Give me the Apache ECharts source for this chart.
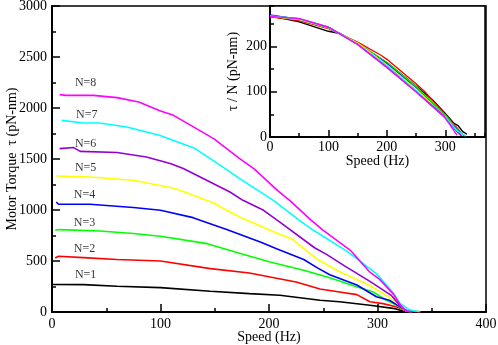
<!DOCTYPE html>
<html>
<head>
<meta charset="utf-8">
<script src="https://cdn.jsdelivr.net/npm/echarts@6/dist/echarts.min.js"></script>
<style>
  html, body { margin: 0; padding: 0; background: #fff; }
  #chart { width: 498px; height: 345px; }
</style>
</head>
<body>
<div id="chart"></div>
<script>
// main panel: [speed (Hz), torque (pN-nm)] for each number of motors
const torqueN1 = [[1,269],[29,268],[60,252],[100,239],[146,203],[182,180],[210,164],[247,115],[265,100],[293,66],[316,33],[321,17],[326,5],[332,1]];
const torqueN2 = [[3,529],[6,546],[29,533],[60,514],[100,500],[146,425],[182,382],[201,343],[225,294],[247,225],[265,196],[281,170],[293,100],[305,82],[318,49],[324,20],[332,6],[340,2]];
const torqueN3 = [[3,801],[7,808],[44,794],[75,769],[100,742],[143,670],[176,566],[201,490],[232,409],[256,335],[280,250],[296,196],[308,115],[318,66],[324,20],[330,4]];
const torqueN4 = [[4,1078],[6,1056],[35,1056],[75,1024],[100,997],[130,925],[161,808],[192,686],[207,621],[232,515],[245,430],[256,365],[281,265],[299,150],[311,115],[321,50],[327,10],[332,2]];
const torqueN5 = [[4,1333],[35,1324],[75,1291],[109,1220],[118,1193],[149,1069],[164,980],[173,931],[201,801],[222,710],[244,520],[265,395],[293,260],[311,145],[320,70],[326,12],[331,2]];
const torqueN6 = [[7,1602],[20,1612],[26,1575],[60,1563],[87,1520],[109,1455],[121,1406],[164,1176],[176,1095],[195,997],[210,882],[242,630],[253,565],[270,450],[293,300],[313,160],[320,70],[327,8],[332,1]];
const torqueN7 = [[9,1879],[29,1853],[44,1853],[69,1814],[99,1732],[132,1602],[161,1395],[173,1308],[204,1095],[228,899],[241,801],[272,595],[299,376],[315,180],[321,82],[330,18],[339,2]];
const torqueN8 = [[7,2131],[13,2124],[38,2124],[60,2102],[80,2059],[100,1971],[112,1928],[149,1700],[173,1504],[186,1406],[208,1190],[219,1095],[239,899],[250,801],[275,605],[293,390],[302,320],[315,170],[321,70],[326,10],[332,1]];

// inset: [speed (Hz), torque per motor (pN-nm)]
const ratioN1 = [[0,268],[50,255],[100,234],[120,229],[150,207],[200,165],[250,113],[280,80],[300,52],[315,30],[322,25],[330,12],[337,6]];
const ratioN2 = [[0,266],[50,258],[100,240],[150,210],[190,181],[200,172],[250,118],[265,100],[280,78],[300,50],[320,20],[330,5]];
const ratioN3 = [[0,268],[50,260],[100,241],[150,208],[200,165],[250,112],[300,48],[318,20],[330,4]];
const ratioN4 = [[0,270],[50,260],[100,243],[150,207],[200,162],[250,108],[300,45],[320,15],[332,3]];
const ratioN5 = [[0,268],[50,260],[100,242],[150,208],[200,160],[250,106],[300,45],[320,13],[330,3]];
const ratioN6 = [[0,268],[50,262],[100,243],[150,205],[200,154],[250,100],[300,42],[320,12],[328,2]];
const ratioN7 = [[0,268],[50,262],[100,243],[150,205],[200,158],[250,103],[300,44],[320,14],[335,2]];
const ratioN8 = [[0,267],[50,262],[100,243],[150,205],[200,155],[250,100],[297,48],[320,4]];

const seriesNames = ['N=1', 'N=2', 'N=3', 'N=4', 'N=5', 'N=6', 'N=7', 'N=8'];
// where the N=k tags sit, in data units of the main panel
const tagSpeed = [31, 30, 30, 30, 31, 31, 32, 31];
const tagTorque = [360, 621, 873, 1151, 1412, 1651, 1935, 2245];

const mainTicksX = [0, 100, 200, 300, 400];
const mainTicksY = [0, 500, 1000, 1500, 2000, 2500, 3000];

const torqueData = [torqueN1, torqueN2, torqueN3, torqueN4, torqueN5, torqueN6, torqueN7, torqueN8];
const ratioData = [ratioN1, ratioN2, ratioN3, ratioN4, ratioN5, ratioN6, ratioN7, ratioN8];
const colors = ['#000000', '#ff0000', '#00ff00', '#0000ff', '#ffff00', '#9400d3', '#00ffff', '#ff00ff'];

const font = 'Liberation Serif';
const plain = function (v) { return String(v); };

function axisBase(extra) {
  return Object.assign({
    type: 'value',
    splitLine: { show: false },
    axisLine: { show: true, lineStyle: { color: '#000', width: 2 } },
    axisTick: { show: true, inside: true, length: 8, lineStyle: { color: '#000', width: 1.5 } },
    axisLabel: { color: '#000', fontFamily: font, fontSize: 14, formatter: plain },
    nameTextStyle: { color: '#000', fontFamily: font, fontSize: 14 },
    nameLocation: 'middle',
    nameMoveOverlap: false
  }, extra);
}

const series = [];
torqueData.forEach(function (d, i) {
  series.push({
    name: seriesNames[i], type: 'line', data: d, xAxisIndex: 0, yAxisIndex: 0,
    showSymbol: false, symbol: 'none', smooth: false, z: 2,
    lineStyle: { color: colors[i], width: 1.6 }
  });
});
ratioData.forEach(function (d, i) {
  series.push({
    name: seriesNames[i] + ' inset', type: 'line', data: d, xAxisIndex: 1, yAxisIndex: 1,
    showSymbol: false, symbol: 'none', z: 12,
    lineStyle: { color: colors[i], width: 1.4 }
  });
});
series.push({
  type: 'scatter', xAxisIndex: 0, yAxisIndex: 0, symbolSize: 0, z: 3, silent: true,
  data: seriesNames.map(function (n, i) { return { name: n, value: [tagSpeed[i], tagTorque[i]] }; }),
  label: { show: true, position: 'inside', formatter: '{b}', color: '#000', fontFamily: font, fontSize: 12 }
});

const chart = echarts.init(document.getElementById('chart'));
chart.setOption({
  backgroundColor: '#fff',
  animation: false,
  grid: [
    { left: 52, top: 6, right: 12, bottom: 33, show: true, borderColor: '#000', borderWidth: 1.5,
      backgroundColor: 'transparent', containLabel: false, outerBoundsMode: 'none' },
    { left: 270, top: 6, width: 215, height: 131, show: true, borderColor: '#000', borderWidth: 1.5,
      backgroundColor: '#fff', z: 10, containLabel: false, outerBoundsMode: 'none' }
  ],
  xAxis: [
    axisBase({ gridIndex: 0, min: mainTicksX[0], max: mainTicksX[mainTicksX.length - 1], interval: 100,
      minorTick: { show: true, splitNumber: 2, length: 4, lineStyle: { color: '#000', width: 1.5 } },
      axisLabel: { color: '#000', fontFamily: font, fontSize: 14, margin: 5, formatter: plain },
      name: 'Speed (Hz)', nameGap: 18 }),
    axisBase({ gridIndex: 1, min: 0, max: 368, interval: 100, z: 11,
      axisTick: { show: true, inside: true, length: 7, lineStyle: { color: '#000', width: 1.5 } },
      axisLabel: { color: '#000', fontFamily: font, fontSize: 14, margin: 3, showMaxLabel: false, formatter: plain },
      name: 'Speed (Hz)', nameGap: 17 }),
    axisBase({ gridIndex: 1, min: 0, max: 368, interval: 50, z: 11, position: 'bottom',
      axisLine: { show: false }, axisLabel: { show: false },
      axisTick: { show: true, inside: true, length: 4, lineStyle: { color: '#000', width: 1.5 } } })
  ],
  yAxis: [
    axisBase({ gridIndex: 0, min: mainTicksY[0], max: mainTicksY[mainTicksY.length - 1], interval: 500,
      minorTick: { show: true, splitNumber: 2, length: 4, lineStyle: { color: '#000', width: 1.5 } },
      axisLabel: { color: '#000', fontFamily: font, fontSize: 14, margin: 5, formatter: plain },
      name: 'Motor Torque  \u03c4 (pN-nm)', nameGap: 33 }),
    axisBase({ gridIndex: 1, min: 0, max: 290, interval: 100, z: 11,
      axisTick: { show: true, inside: true, length: 7, lineStyle: { color: '#000', width: 1.5 } },
      axisLabel: { color: '#000', fontFamily: font, fontSize: 14, margin: 3, showMaxLabel: false, formatter: plain },
      name: '\u03c4 / N (pN-nm)', nameGap: 30 }),
    axisBase({ gridIndex: 1, min: 0, max: 290, interval: 50, z: 11, position: 'left',
      axisLine: { show: false }, axisLabel: { show: false },
      axisTick: { show: true, inside: true, length: 4, lineStyle: { color: '#000', width: 1.5 } } })
  ],
  series: series
});
</script>
</body>
</html>
